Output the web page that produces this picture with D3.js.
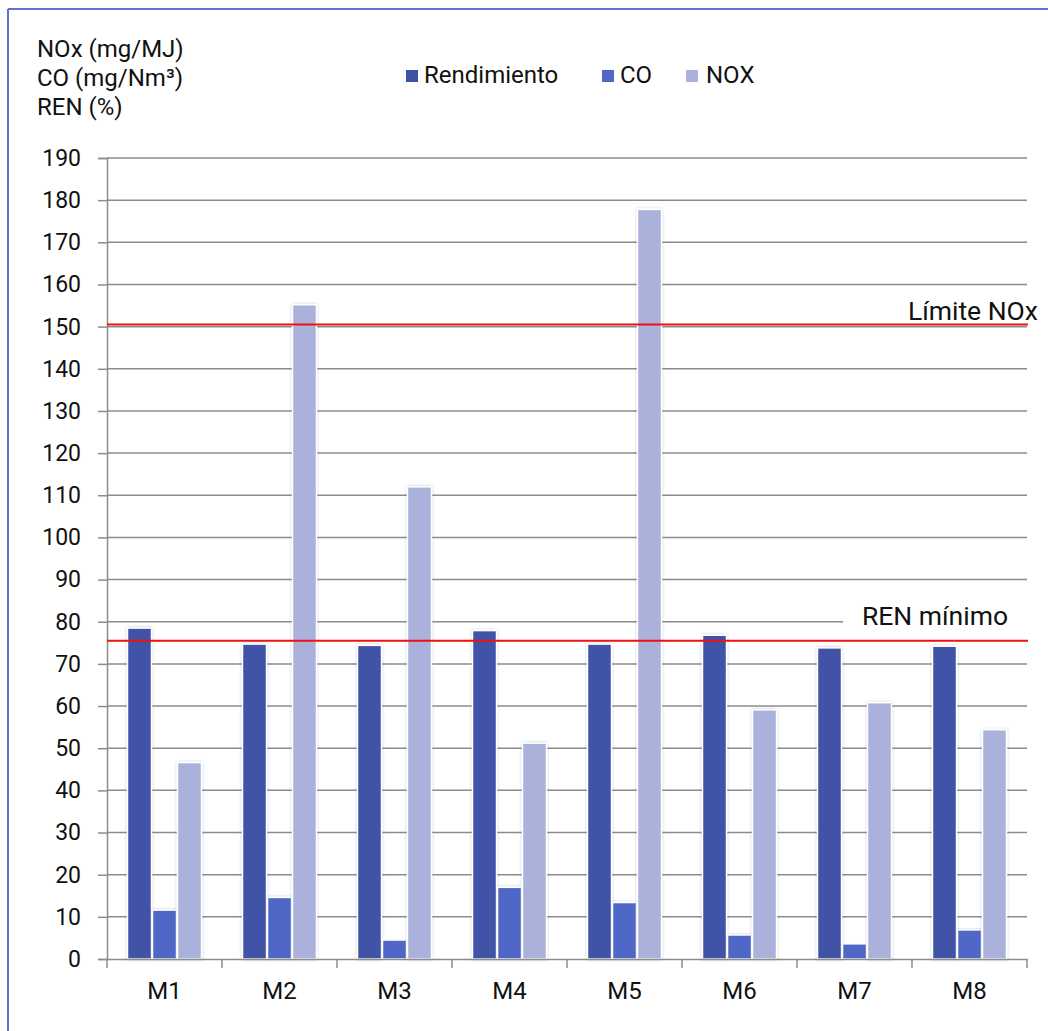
<!DOCTYPE html>
<html><head><meta charset="utf-8">
<script src="https://cdn.jsdelivr.net/npm/d3@7"></script>
<style>
html,body{margin:0;padding:0;background:#fff;}
text{font-family:Roboto, "Liberation Sans", sans-serif;fill:#111;}
</style></head>
<body>
<svg id="chart" width="1048" height="1031"></svg>
<script>
const categories = ["M1","M2","M3","M4","M5","M6","M7","M8"];
const seriesNames = ["Rendimiento","CO","NOX"];
const rendimiento = [78.5, 74.7, 74.4, 77.9, 74.7, 76.8, 73.8, 74.2];
const co = [11.6, 14.6, 4.5, 17.0, 13.4, 5.7, 3.6, 6.9];
const nox = [46.6, 155.2, 112.0, 51.2, 177.8, 59.1, 60.8, 54.4];
const yTicks = [0,10,20,30,40,50,60,70,80,90,100,110,120,130,140,150,160,170,180,190];
const refLines = [{label:"Límite NOx", value:150.5},{label:"REN mínimo", value:75.5}];
const titleLines = ["NOx (mg/MJ)","CO (mg/Nm³)","REN (%)"];
const colors = ["#3F53A6","#5068C8","#AAB2DC"];

const svg = d3.select("#chart");
const pLeft = 107, pRight = 1027, pTop = 158, pBottom = 959;
const FF = "Roboto, 'Liberation Sans', sans-serif";

// border (top & left)
svg.append("line").attr("x1",8).attr("x2",1048).attr("y1",9).attr("y2",9).attr("stroke","#5B74D0").attr("stroke-width",2);
svg.append("line").attr("x1",8).attr("x2",8).attr("y1",9).attr("y2",1031).attr("stroke","#5B74D0").attr("stroke-width",2);

const x = d3.scaleBand().domain(categories).range([pLeft,pRight]).paddingInner(0).paddingOuter(0);
const y = d3.scaleLinear().domain([0,190]).range([pBottom,pTop]);
const xs = d3.scaleBand().domain(seriesNames).range([0,x.bandwidth()]).paddingOuter(0.8).paddingInner(0);

// gridlines
svg.append("g").selectAll("line").data(yTicks.filter(d=>d>0)).join("line")
  .attr("x1",pLeft).attr("x2",pRight).attr("y1",d=>y(d)).attr("y2",d=>y(d))
  .attr("stroke","#8c8c8c").attr("stroke-width",1.5);

// y axis
const yAxis = d3.axisLeft(y).tickValues(yTicks).tickSize(9).tickPadding(17).tickFormat(d3.format("d"));
const gy = svg.append("g").attr("transform",`translate(${pLeft},0)`).call(yAxis);
gy.select(".domain").attr("stroke","#8c8c8c").attr("stroke-width",1.5);
gy.selectAll(".tick line").attr("stroke","#8c8c8c").attr("stroke-width",1.5);
gy.selectAll(".tick text").attr("font-size",23).attr("fill","#111").style("font-family",FF);

// bars
const data = categories.map((c,i)=>({c, vals:[rendimiento[i],co[i],nox[i]]}));
const defs = svg.append("defs");
const f = defs.append("filter").attr("id","sh").attr("x","-30%").attr("y","-5%").attr("width","160%").attr("height","110%");
f.append("feGaussianBlur").attr("in","SourceAlpha").attr("stdDeviation",1.5).attr("result","b");
f.append("feComponentTransfer").attr("in","b").attr("result","o2").append("feFuncA").attr("type","linear").attr("slope",0.25);
const m = f.append("feMerge"); m.append("feMergeNode").attr("in","o2"); m.append("feMergeNode").attr("in","SourceGraphic");

const groups = svg.append("g").selectAll("g").data(data).join("g").attr("transform",d=>`translate(${x(d.c)},0)`);
groups.selectAll("rect").data(d=>d.vals.map((v,k)=>({v,k}))).join("rect")
  .attr("x",d=>xs(seriesNames[d.k])+0.5)
  .attr("width",xs.bandwidth()-1)
  .attr("y",d=>y(d.v))
  .attr("height",d=>pBottom-y(d.v))
  .attr("fill",d=>colors[d.k])
  .attr("stroke","#fff").attr("stroke-width",1.5)
  .attr("filter","url(#sh)");

// x axis
const xAxis = d3.axisBottom(x).tickSize(0).tickPadding(23);
const gx = svg.append("g").attr("transform",`translate(0,${pBottom})`).call(xAxis);
gx.select(".domain").attr("stroke","#8c8c8c").attr("stroke-width",1.5);
gx.selectAll(".tick text").attr("font-size",24).attr("fill","#111").style("font-family",FF);
svg.append("g").selectAll("line").data(d3.range(categories.length+1)).join("line")
  .attr("x1",i=>pLeft+i*x.bandwidth()).attr("x2",i=>pLeft+i*x.bandwidth())
  .attr("y1",pBottom).attr("y2",pBottom+9).attr("stroke","#8c8c8c").attr("stroke-width",1.5);

// reference lines
const renLine = refLines[1];
svg.append("rect").attr("x",843).attr("y",y(80)-4).attr("width",pRight-843+2).attr("height",8).attr("fill","#fff");
svg.append("g").selectAll("line").data(refLines).join("line")
  .attr("x1",pLeft).attr("x2",pRight+1).attr("y1",d=>y(d.value)).attr("y2",d=>y(d.value))
  .attr("stroke","#EE1111").attr("stroke-width",2);
svg.append("text").attr("x",1038).attr("y",y(refLines[0].value)-5).attr("text-anchor","end").attr("font-size",26.5).text(refLines[0].label);
svg.append("text").attr("x",1008).attr("y",y(renLine.value)-16).attr("text-anchor","end").attr("font-size",26.5).text(renLine.label);

// title lines
svg.append("g").selectAll("text").data(titleLines).join("text")
  .attr("x",37).attr("y",(d,i)=>57+i*29).attr("font-size",24).text(d=>d);

// legend
const legX = [406, 602, 686];
const lg = svg.append("g").selectAll("g").data(seriesNames).join("g").attr("transform",(d,i)=>`translate(${legX[i]},0)`);
lg.append("rect").attr("x",0).attr("y",70).attr("width",12).attr("height",12).attr("fill",(d,i)=>colors[i]);
lg.append("text").attr("x",(d,i)=>i===2?20:18).attr("y",83).attr("font-size",24).text(d=>d);
</script>
</body></html>
